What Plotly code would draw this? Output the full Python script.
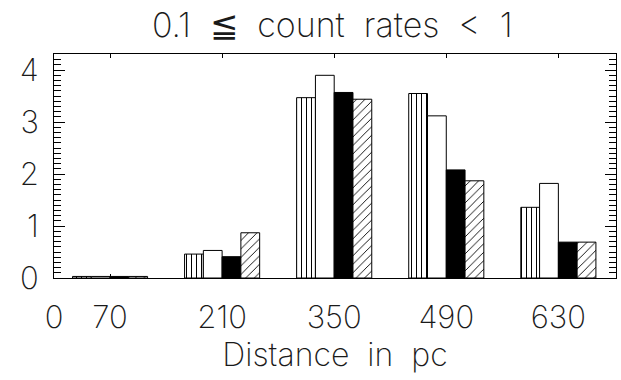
import plotly.graph_objects as go

# Distance bins (pc) and the four histogram series
distance = [70, 210, 350, 490, 630]
series_a = [0.03, 0.46, 3.47, 3.55, 1.36]   # vertical-line fill
series_b = [0.03, 0.53, 3.90, 3.12, 1.82]   # open bars
series_c = [0.03, 0.41, 3.57, 2.08, 0.69]   # solid bars
series_d = [0.03, 0.87, 3.44, 1.87, 0.69]   # diagonal hatch

x_ticks = [0, 70, 210, 350, 490, 630]
x_labels = ["0", "70", "210", "350", "490", "630"]
y_ticks = [0, 1, 2, 3, 4]

FONT = "Inter"
INK = "#1a1a1a"

outline = dict(color="black", width=1)

fig = go.Figure()
fig.add_trace(go.Bar(
    x=distance, y=series_a, name="a",
    marker=dict(color="white", line=outline,
                pattern=dict(shape="|", fgcolor="black", bgcolor="white",
                             size=5, solidity=0.2, fillmode="replace")),
))
fig.add_trace(go.Bar(
    x=distance, y=series_b, name="b",
    marker=dict(color="white", line=outline),
))
fig.add_trace(go.Bar(
    x=distance, y=series_c, name="c",
    marker=dict(color="black", line=outline),
))
fig.add_trace(go.Bar(
    x=distance, y=series_d, name="d",
    marker=dict(color="white", line=outline,
                pattern=dict(shape="/", fgcolor="black", bgcolor="white",
                             size=6, solidity=0.15, fillmode="replace")),
))

fig.update_layout(
    width=621, height=380,
    margin=dict(l=54, r=5, t=54, b=102),
    paper_bgcolor="white", plot_bgcolor="white",
    barmode="group", bargap=0.33, bargroupgap=0,
    showlegend=False,
    font=dict(family=FONT, color=INK, size=26, weight=200),
    title=dict(text="0.1  ≦  count  rates  <  1", x=0.535, xanchor="center",
               y=0.934, yanchor="middle",
               font=dict(family=FONT, size=34, color=INK, weight=200)),
    xaxis=dict(
        range=[0, 702], tickmode="array", tickvals=x_ticks, ticktext=x_labels,
        ticks="inside", ticklen=4, tickcolor="black", tickwidth=1,
        showline=True, linecolor="black", linewidth=1, mirror="ticks",
        showgrid=False, zeroline=False,
        ticklabelstandoff=12,
        tickfont=dict(family=FONT, size=31, color=INK, weight=200),
        title=dict(text="Distance  in  pc", standoff=4,
                   font=dict(family=FONT, size=32, color=INK, weight=200)),
    ),
    yaxis=dict(
        range=[0, 4.31], tickmode="array", tickvals=y_ticks,
        ticks="inside", ticklen=11, tickcolor="black", tickwidth=1,
        minor=dict(dtick=0.1, ticks="inside", ticklen=7,
                   tickcolor="black", tickwidth=1, showgrid=False),
        showline=True, linecolor="black", linewidth=1, mirror="ticks",
        showgrid=False, zeroline=False,
        ticklabelstandoff=8,
        tickfont=dict(family=FONT, size=31, color=INK, weight=200),
    ),
)

fig.write_html("out.html")
